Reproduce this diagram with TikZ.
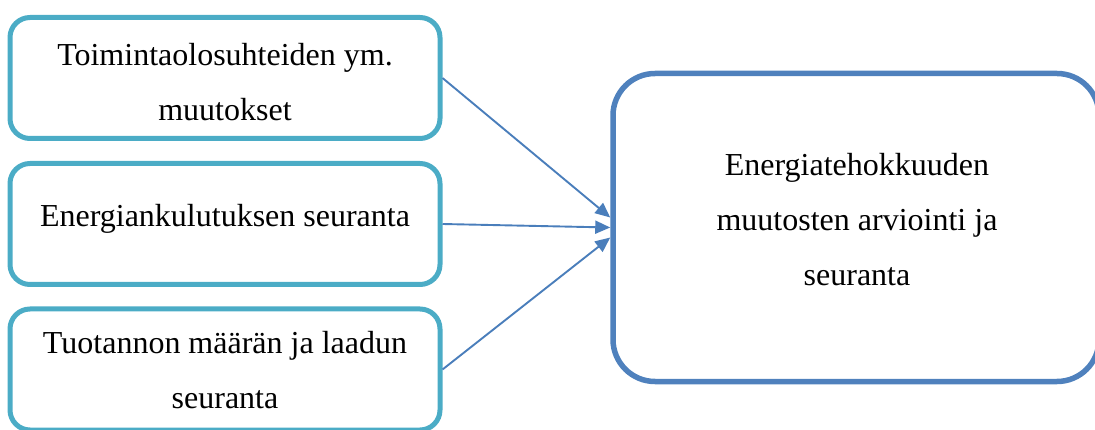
\documentclass[tikz,border=0pt]{standalone}
\usepackage{fontspec}
\setmainfont{Liberation Serif}
\usetikzlibrary{arrows.meta}
\definecolor{tealline}{RGB}{75,172,198}
\definecolor{blueline}{RGB}{79,129,189}
\definecolor{arrowcol}{RGB}{74,126,187}
\begin{document}
\begin{tikzpicture}[x=1pt,y=-1pt,
  srcbox/.style={draw=tealline, line width=5pt, rounded corners=20pt,
    minimum width=430pt, minimum height=121pt, inner sep=0pt},
  goalbox/.style={draw=blueline, line width=5.5pt, rounded corners=42pt,
    minimum width=486pt, minimum height=308pt, inner sep=0pt},
  txt/.style={anchor=north, inner sep=0pt, align=center,
    font=\fontsize{32}{55}\selectfont},
  conn/.style={draw=arrowcol, line width=1.9pt,
    -{Triangle[length=15pt,width=13pt]}}]
\useasboundingbox (0,0) rectangle (1095,430);
\node[srcbox] (b1) at (225,78) {};
\node[srcbox] (b2) at (225,224) {};
\node[srcbox] (b3) at (225,369.5) {};
\node[goalbox] (rb) at (856,227.5) {};
\node[txt] (l1) at (225,43) {Toimintaolosuhteiden ym.\\muutokset};
\node[txt] (l2) at (225,204) {Energiankulutuksen seuranta};
\node[txt] (l3) at (225,331) {Tuotannon määrän ja laadun\\seuranta};
\node[txt] (lr) at (857,153) {Energiatehokkuuden\\muutosten arviointi ja\\seuranta};
\coordinate (t1) at ([yshift=10pt]rb.west);
\coordinate (t2) at (rb.west);
\coordinate (t3) at ([yshift=-10pt]rb.west);
\draw[conn] (b1.east) -- (t1);
\draw[conn] (b2.east) -- (t2);
\draw[conn] (b3.east) -- (t3);
\end{tikzpicture}
\end{document}
